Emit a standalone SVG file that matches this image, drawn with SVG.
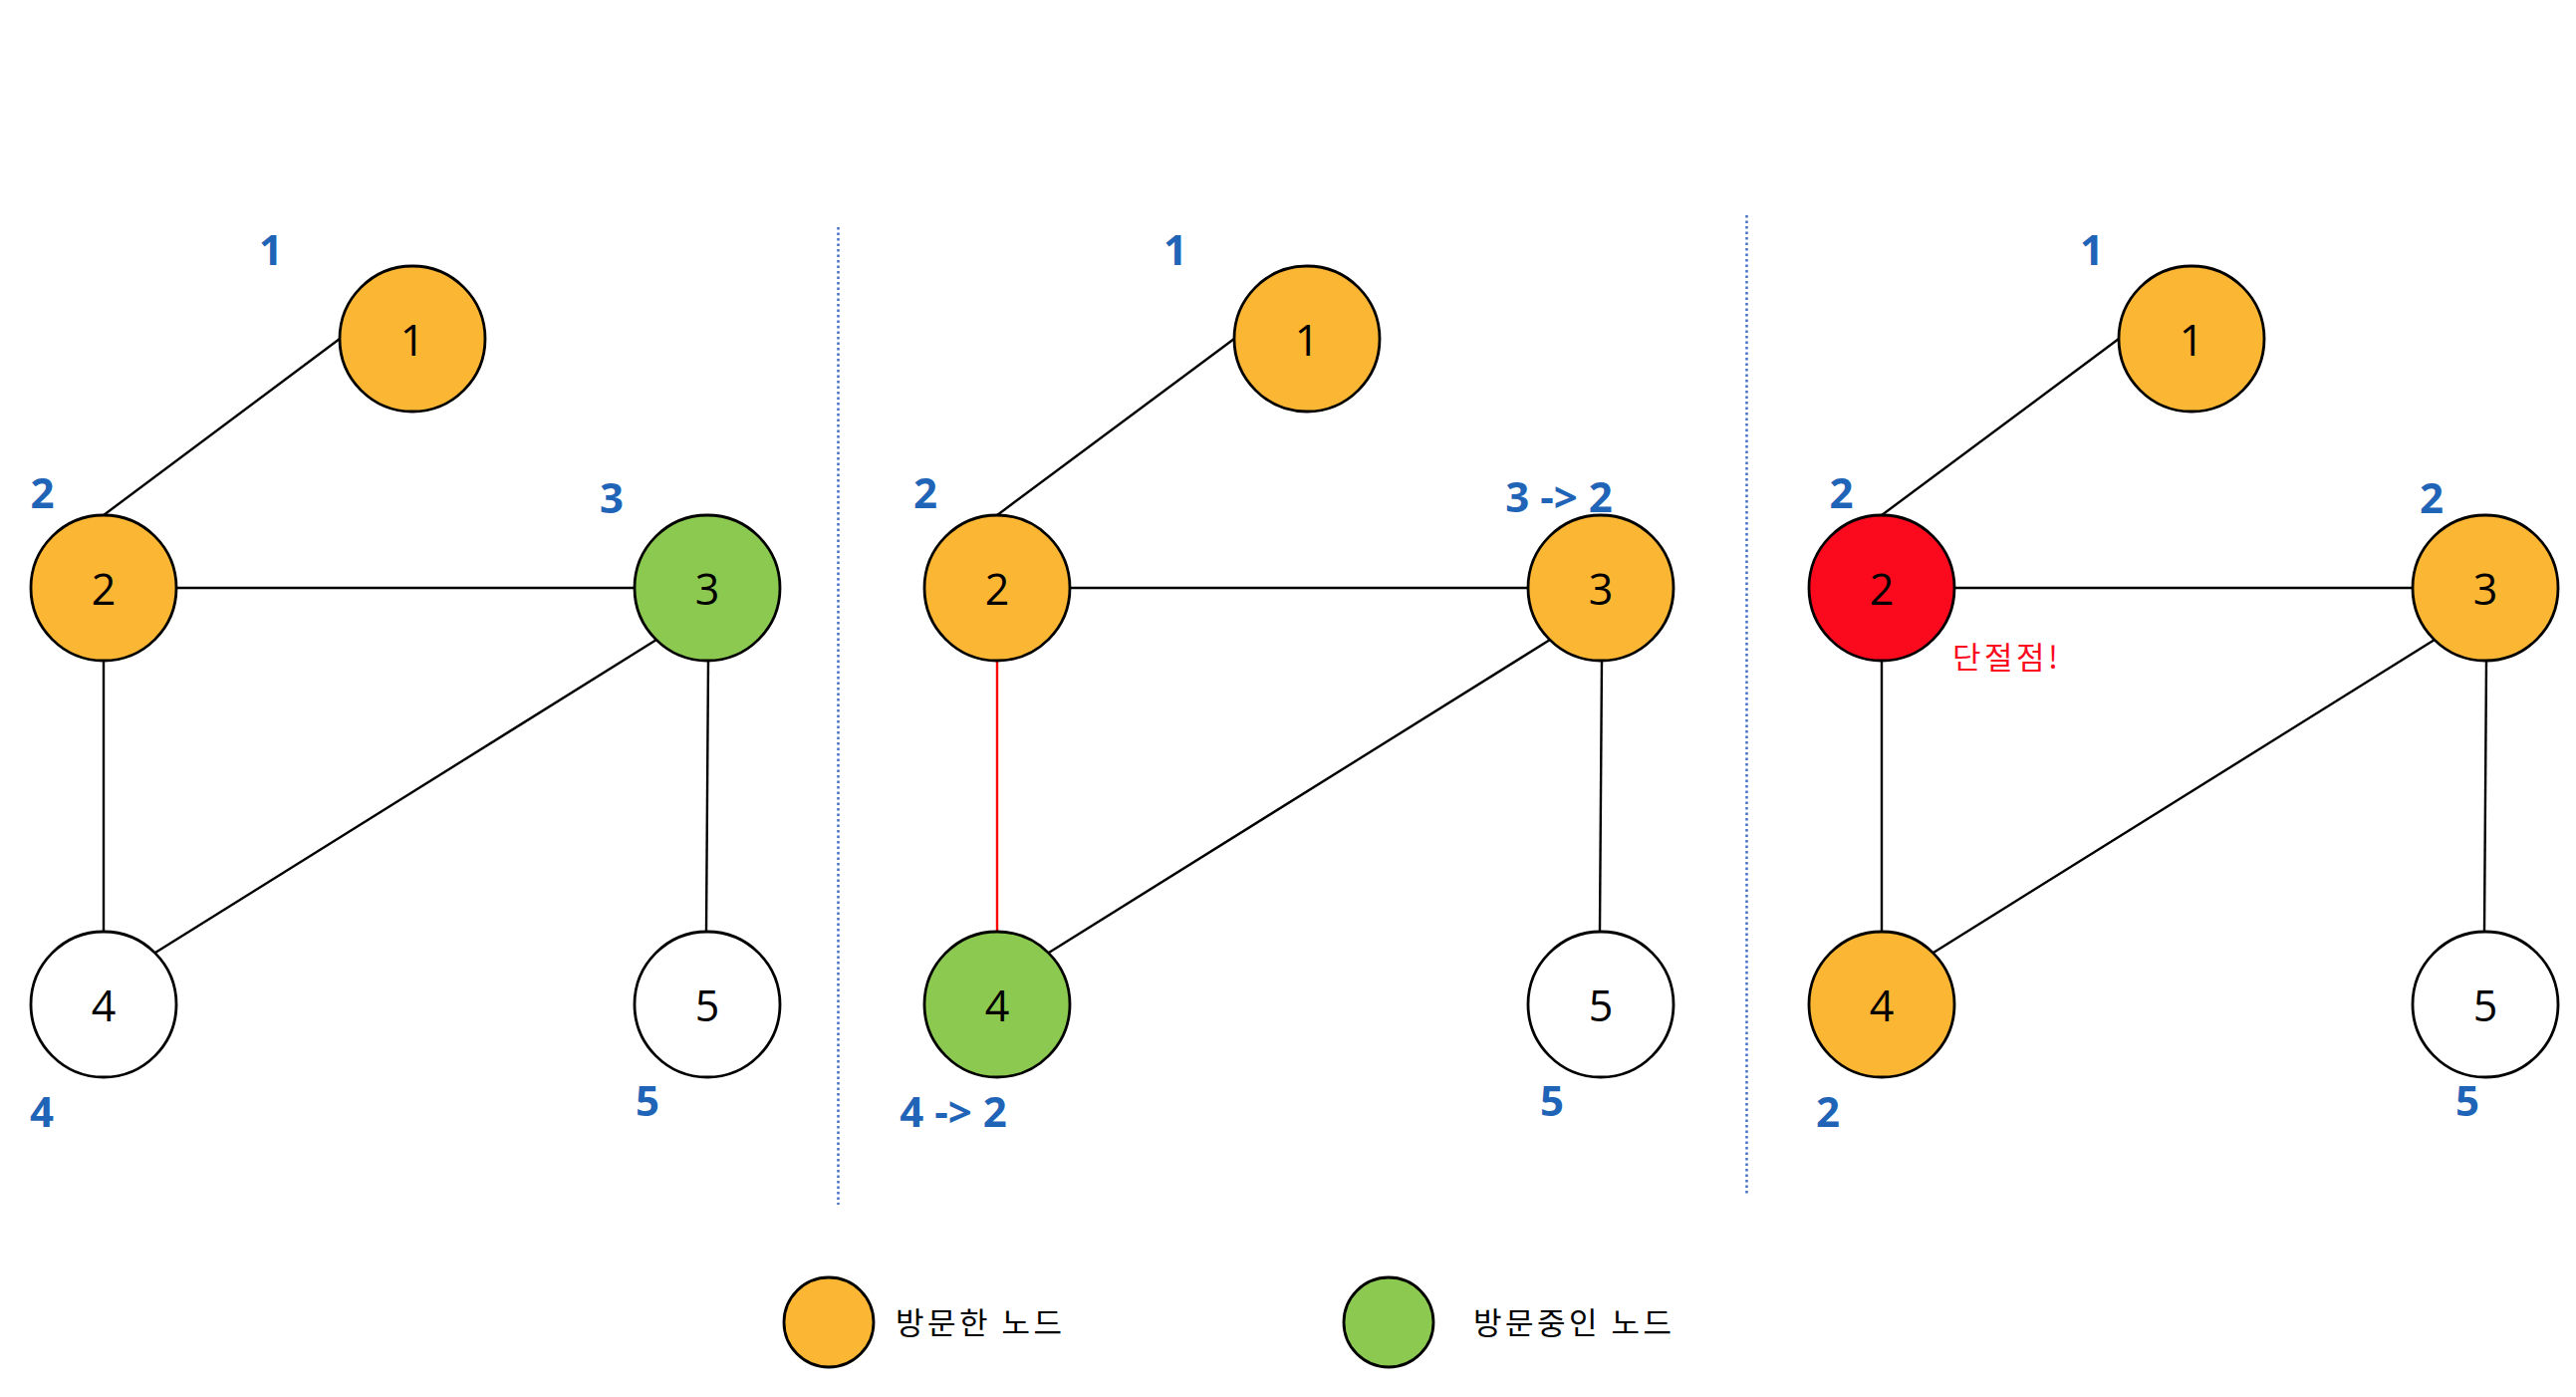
<svg xmlns="http://www.w3.org/2000/svg" width="2586" height="1402" viewBox="0 0 2586 1402">
<style>
.node{stroke:#000;stroke-width:2.8}
.v{fill:#FBB634}
.a{fill:#8BC950}
.w{fill:#FFFFFF}
.r{fill:#FB0A1E}
.nt{font-family:"Open Sans","Noto Sans",sans-serif;font-size:43px;fill:#000;text-anchor:middle}
.lb{font-family:"Open Sans","Noto Sans",sans-serif;font-size:42px;font-weight:700;fill:#1F64B6;text-anchor:middle}
.e{stroke:#000;stroke-width:2.4;fill:none}
.er{stroke:#FF0000;stroke-width:2.4;fill:none}
.div{stroke:#4472C4;stroke-width:2.5;stroke-dasharray:2.5 3}
.kr{font-family:"Noto Sans CJK KR","Noto Sans",sans-serif;font-size:31px;letter-spacing:3.5px}
</style>
<rect width="2586" height="1402" fill="#FFFFFF"/>
<g id="dividers">
<line class="div" x1="841.5" y1="228" x2="841.5" y2="1209"/>
<line class="div" x1="1753.5" y1="216" x2="1753.5" y2="1199"/>
</g>
<g id="connectors">
<line class="e" x1="341" y1="340" x2="104" y2="517"/>
<line class="e" x1="177" y1="590" x2="638" y2="590"/>
<line class="e" x1="104" y1="663" x2="104" y2="935"/>
<line class="e" x1="659" y1="642" x2="156" y2="956"/>
<line class="e" x1="711" y1="663" x2="709" y2="935"/>
<line class="e" x1="1239" y1="340" x2="1001" y2="517"/>
<line class="e" x1="1074" y1="590" x2="1535" y2="590"/>
<line class="er" x1="1001" y1="663" x2="1001" y2="935"/>
<line class="e" x1="1556" y1="642" x2="1053" y2="956"/>
<line class="e" x1="1608" y1="663" x2="1606" y2="935"/>
<line class="e" x1="2127" y1="340" x2="1889" y2="517"/>
<line class="e" x1="1962" y1="590" x2="2423" y2="590"/>
<line class="e" x1="1889" y1="663" x2="1889" y2="935"/>
<line class="e" x1="2444" y1="642" x2="1941" y2="956"/>
<line class="e" x1="2496" y1="663" x2="2494" y2="935"/>
</g>
<g id="p1n1"><circle class="node v" cx="414" cy="340" r="73"/><text class="nt" x="414" y="357">1</text></g>
<g id="p1n2"><circle class="node v" cx="104" cy="590" r="73"/><text class="nt" x="104" y="607">2</text></g>
<g id="p1n3"><circle class="node a" cx="710" cy="590" r="73"/><text class="nt" x="710" y="607">3</text></g>
<g id="p1n4"><circle class="node w" cx="104" cy="1008" r="73"/><text class="nt" x="104" y="1025">4</text></g>
<g id="p1n5"><circle class="node w" cx="710" cy="1008" r="73"/><text class="nt" x="710" y="1025">5</text></g>
<g id="p2n1"><circle class="node v" cx="1312" cy="340" r="73"/><text class="nt" x="1312" y="357">1</text></g>
<g id="p2n2"><circle class="node v" cx="1001" cy="590" r="73"/><text class="nt" x="1001" y="607">2</text></g>
<g id="p2n3"><circle class="node v" cx="1607" cy="590" r="73"/><text class="nt" x="1607" y="607">3</text></g>
<g id="p2n4"><circle class="node a" cx="1001" cy="1008" r="73"/><text class="nt" x="1001" y="1025">4</text></g>
<g id="p2n5"><circle class="node w" cx="1607" cy="1008" r="73"/><text class="nt" x="1607" y="1025">5</text></g>
<g id="p3n1"><circle class="node v" cx="2200" cy="340" r="73"/><text class="nt" x="2200" y="357">1</text></g>
<g id="p3n2"><circle class="node r" cx="1889" cy="590" r="73"/><text class="nt" x="1889" y="607">2</text></g>
<g id="p3n3"><circle class="node v" cx="2495" cy="590" r="73"/><text class="nt" x="2495" y="607">3</text></g>
<g id="p3n4"><circle class="node v" cx="1889" cy="1008" r="73"/><text class="nt" x="1889" y="1025">4</text></g>
<g id="p3n5"><circle class="node w" cx="2495" cy="1008" r="73"/><text class="nt" x="2495" y="1025">5</text></g>
<g id="labels">
<text class="lb" x="272" y="266">1</text>
<text class="lb" x="42.5" y="510">2</text>
<text class="lb" x="614" y="515">3</text>
<text class="lb" x="42" y="1131">4</text>
<text class="lb" x="650" y="1120">5</text>
<text class="lb" x="1180" y="266">1</text>
<text class="lb" x="929" y="510">2</text>
<text class="lb" x="1565" y="514">3 -&gt; 2</text>
<text class="lb" x="957" y="1131">4 -&gt; 2</text>
<text class="lb" x="1558" y="1120">5</text>
<text class="lb" x="2100" y="266">1</text>
<text class="lb" x="1848.5" y="510">2</text>
<text class="lb" x="2441" y="515">2</text>
<text class="lb" x="1835" y="1131">2</text>
<text class="lb" x="2477" y="1120">5</text>
<text class="kr" x="1960" y="671" fill="#FB0A1E">단절점!</text>
</g>
<g id="legend-visited"><circle class="node v" cx="832" cy="1327" r="45"/><text class="kr" x="899" y="1339" fill="#000">방문한 노드</text></g>
<g id="legend-visiting"><circle class="node a" cx="1394" cy="1327" r="45"/><text class="kr" x="1479" y="1339" fill="#000">방문중인 노드</text></g>
</svg>
